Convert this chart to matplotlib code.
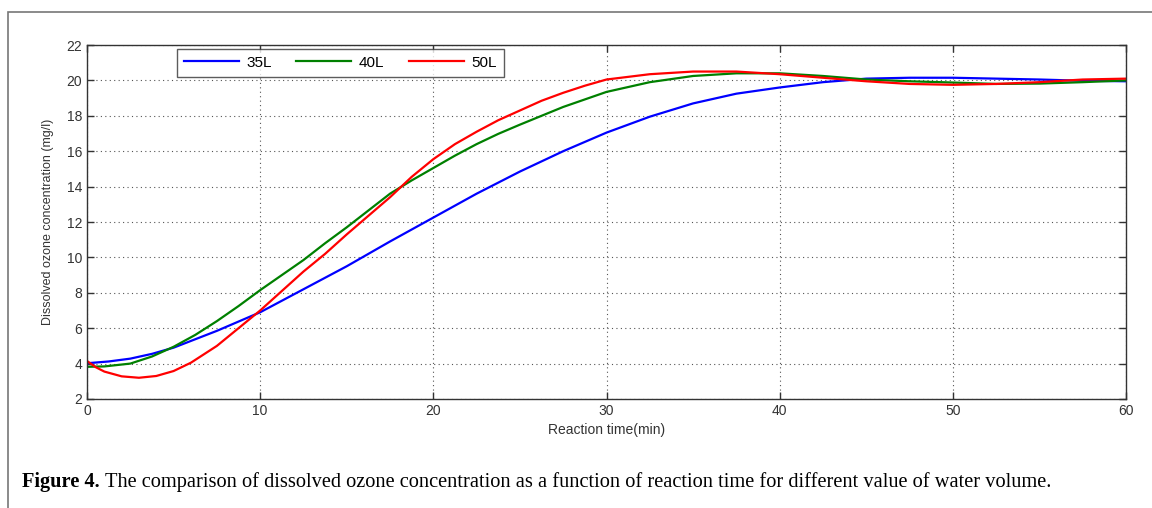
import matplotlib.pyplot as plt
from matplotlib.patches import Rectangle

# readings from the figure (time in min, concentration in mg/l)
t_35 = [0, 1.25, 2.5, 3.75, 5, 7.5, 10, 12.5, 15, 17.5, 20, 22.5, 25, 27.5, 30,
        32.5, 35, 37.5, 40, 42.5, 45, 47.5, 50, 52.5, 55, 57.5, 60]
c_35 = [4.02, 4.12, 4.28, 4.55, 4.9, 5.85, 6.9, 8.2, 9.5, 10.9, 12.25, 13.6,
        14.85, 16.0, 17.05, 17.95, 18.7, 19.25, 19.6, 19.9, 20.1, 20.15, 20.15,
        20.1, 20.05, 19.98, 19.95]

t_40 = [0, 1, 2.5, 3.75, 5, 6.25, 7.5, 8.75, 10, 11.25, 12.5, 13.75, 15, 16.25,
        17.5, 18.75, 20, 21.25, 22.5, 23.75, 25, 27.5, 30, 32.5, 35, 37.5, 40,
        42.5, 45, 47.5, 50, 52.5, 55, 57.5, 60]
c_40 = [3.82, 3.84, 4.0, 4.4, 4.95, 5.62, 6.4, 7.25, 8.15, 9.0, 9.85, 10.8,
        11.7, 12.65, 13.6, 14.35, 15.05, 15.75, 16.4, 16.98, 17.5, 18.5, 19.35,
        19.9, 20.25, 20.4, 20.4, 20.25, 20.05, 19.95, 19.88, 19.8, 19.82, 19.9,
        20.0]

t_50 = [0, 0.5, 1, 2, 3, 4, 5, 6, 7.5, 8.75, 10, 11.25, 12.5, 13.75, 15, 16.25,
        17.5, 18.75, 20, 21.25, 22.5, 23.75, 25, 26.25, 27.5, 28.75, 30, 32.5,
        35, 37.5, 40, 42.5, 45, 47.5, 50, 52.5, 55, 57.5, 60]
c_50 = [4.15, 3.8, 3.55, 3.28, 3.2, 3.3, 3.58, 4.05, 5.0, 6.0, 7.0, 8.1, 9.2,
        10.2, 11.3, 12.35, 13.4, 14.55, 15.55, 16.4, 17.1, 17.75, 18.3, 18.85,
        19.3, 19.7, 20.05, 20.35, 20.5, 20.5, 20.35, 20.15, 19.95, 19.8, 19.75,
        19.8, 19.9, 20.05, 20.1]

x_ticks = [0, 10, 20, 30, 40, 50, 60]
y_ticks = [2, 4, 6, 8, 10, 12, 14, 16, 18, 20, 22]

plt.rcParams['font.family'] = ['Liberation Sans', 'DejaVu Sans']

fig = plt.figure(figsize=(11.52, 5.08), dpi=100)

# outer frame of the figure panel (right and bottom edges fall off the image)
fig.patches.append(Rectangle((8 / 1152, -0.1), 1.2, 1.1 - 12 / 508,
                             transform=fig.transFigure, fill=False,
                             edgecolor='#777777', linewidth=1.2))

ax = fig.add_axes([87 / 1152, 1 - 399 / 508, 1039 / 1152, 354 / 508])
ax.plot(t_35, c_35, color='#0000ff', lw=1.6, label='35L')
ax.plot(t_40, c_40, color='#008000', lw=1.6, label='40L')
ax.plot(t_50, c_50, color='#ff0000', lw=1.6, label='50L')

ax.set_xlim(0, 60)
ax.set_ylim(2, 22)
ax.set_xticks(x_ticks)
ax.set_yticks(y_ticks)
ax.grid(True, linestyle=(0, (1, 3)), color='#555555', lw=0.8)
ax.tick_params(direction='in', top=True, right=True, length=5, width=1,
               color='#333333', labelsize=10, labelcolor='#333333')
for s in ax.spines.values():
    s.set_color('#333333')
    s.set_linewidth(1)

ax.set_xlabel('Reaction time(min)', fontsize=10, color='#333333', labelpad=4)
ax.set_ylabel('Dissolved ozone concentration (mg/l)', fontsize=9,
              color='#333333', labelpad=9)

leg = ax.legend(loc='upper left', bbox_to_anchor=(0.0866, 0.989), ncol=3,
                fontsize=11, handlelength=3.6, handletextpad=0.5,
                frameon=True, fancybox=False, edgecolor='#333333',
                borderpad=0.45, columnspacing=1.6, borderaxespad=0)
leg.get_frame().set_linewidth(1)

# caption: bold lead-in, then the rest right after it
y_cap = 1 - 482 / 508
lead = fig.text(22 / 1152, y_cap, 'Figure 4.', fontsize=14.7, weight='bold',
                family='Liberation Serif', va='center')
r = fig.canvas.get_renderer()
bb = lead.get_window_extent(renderer=r)
fig.text((bb.x1 + 5) / 1152, y_cap,
         'The comparison of dissolved ozone concentration as a function of '
         'reaction time for different value of water volume.',
         fontsize=14.7, family='Liberation Serif', va='center')

fig.savefig('out.png', dpi=100)
